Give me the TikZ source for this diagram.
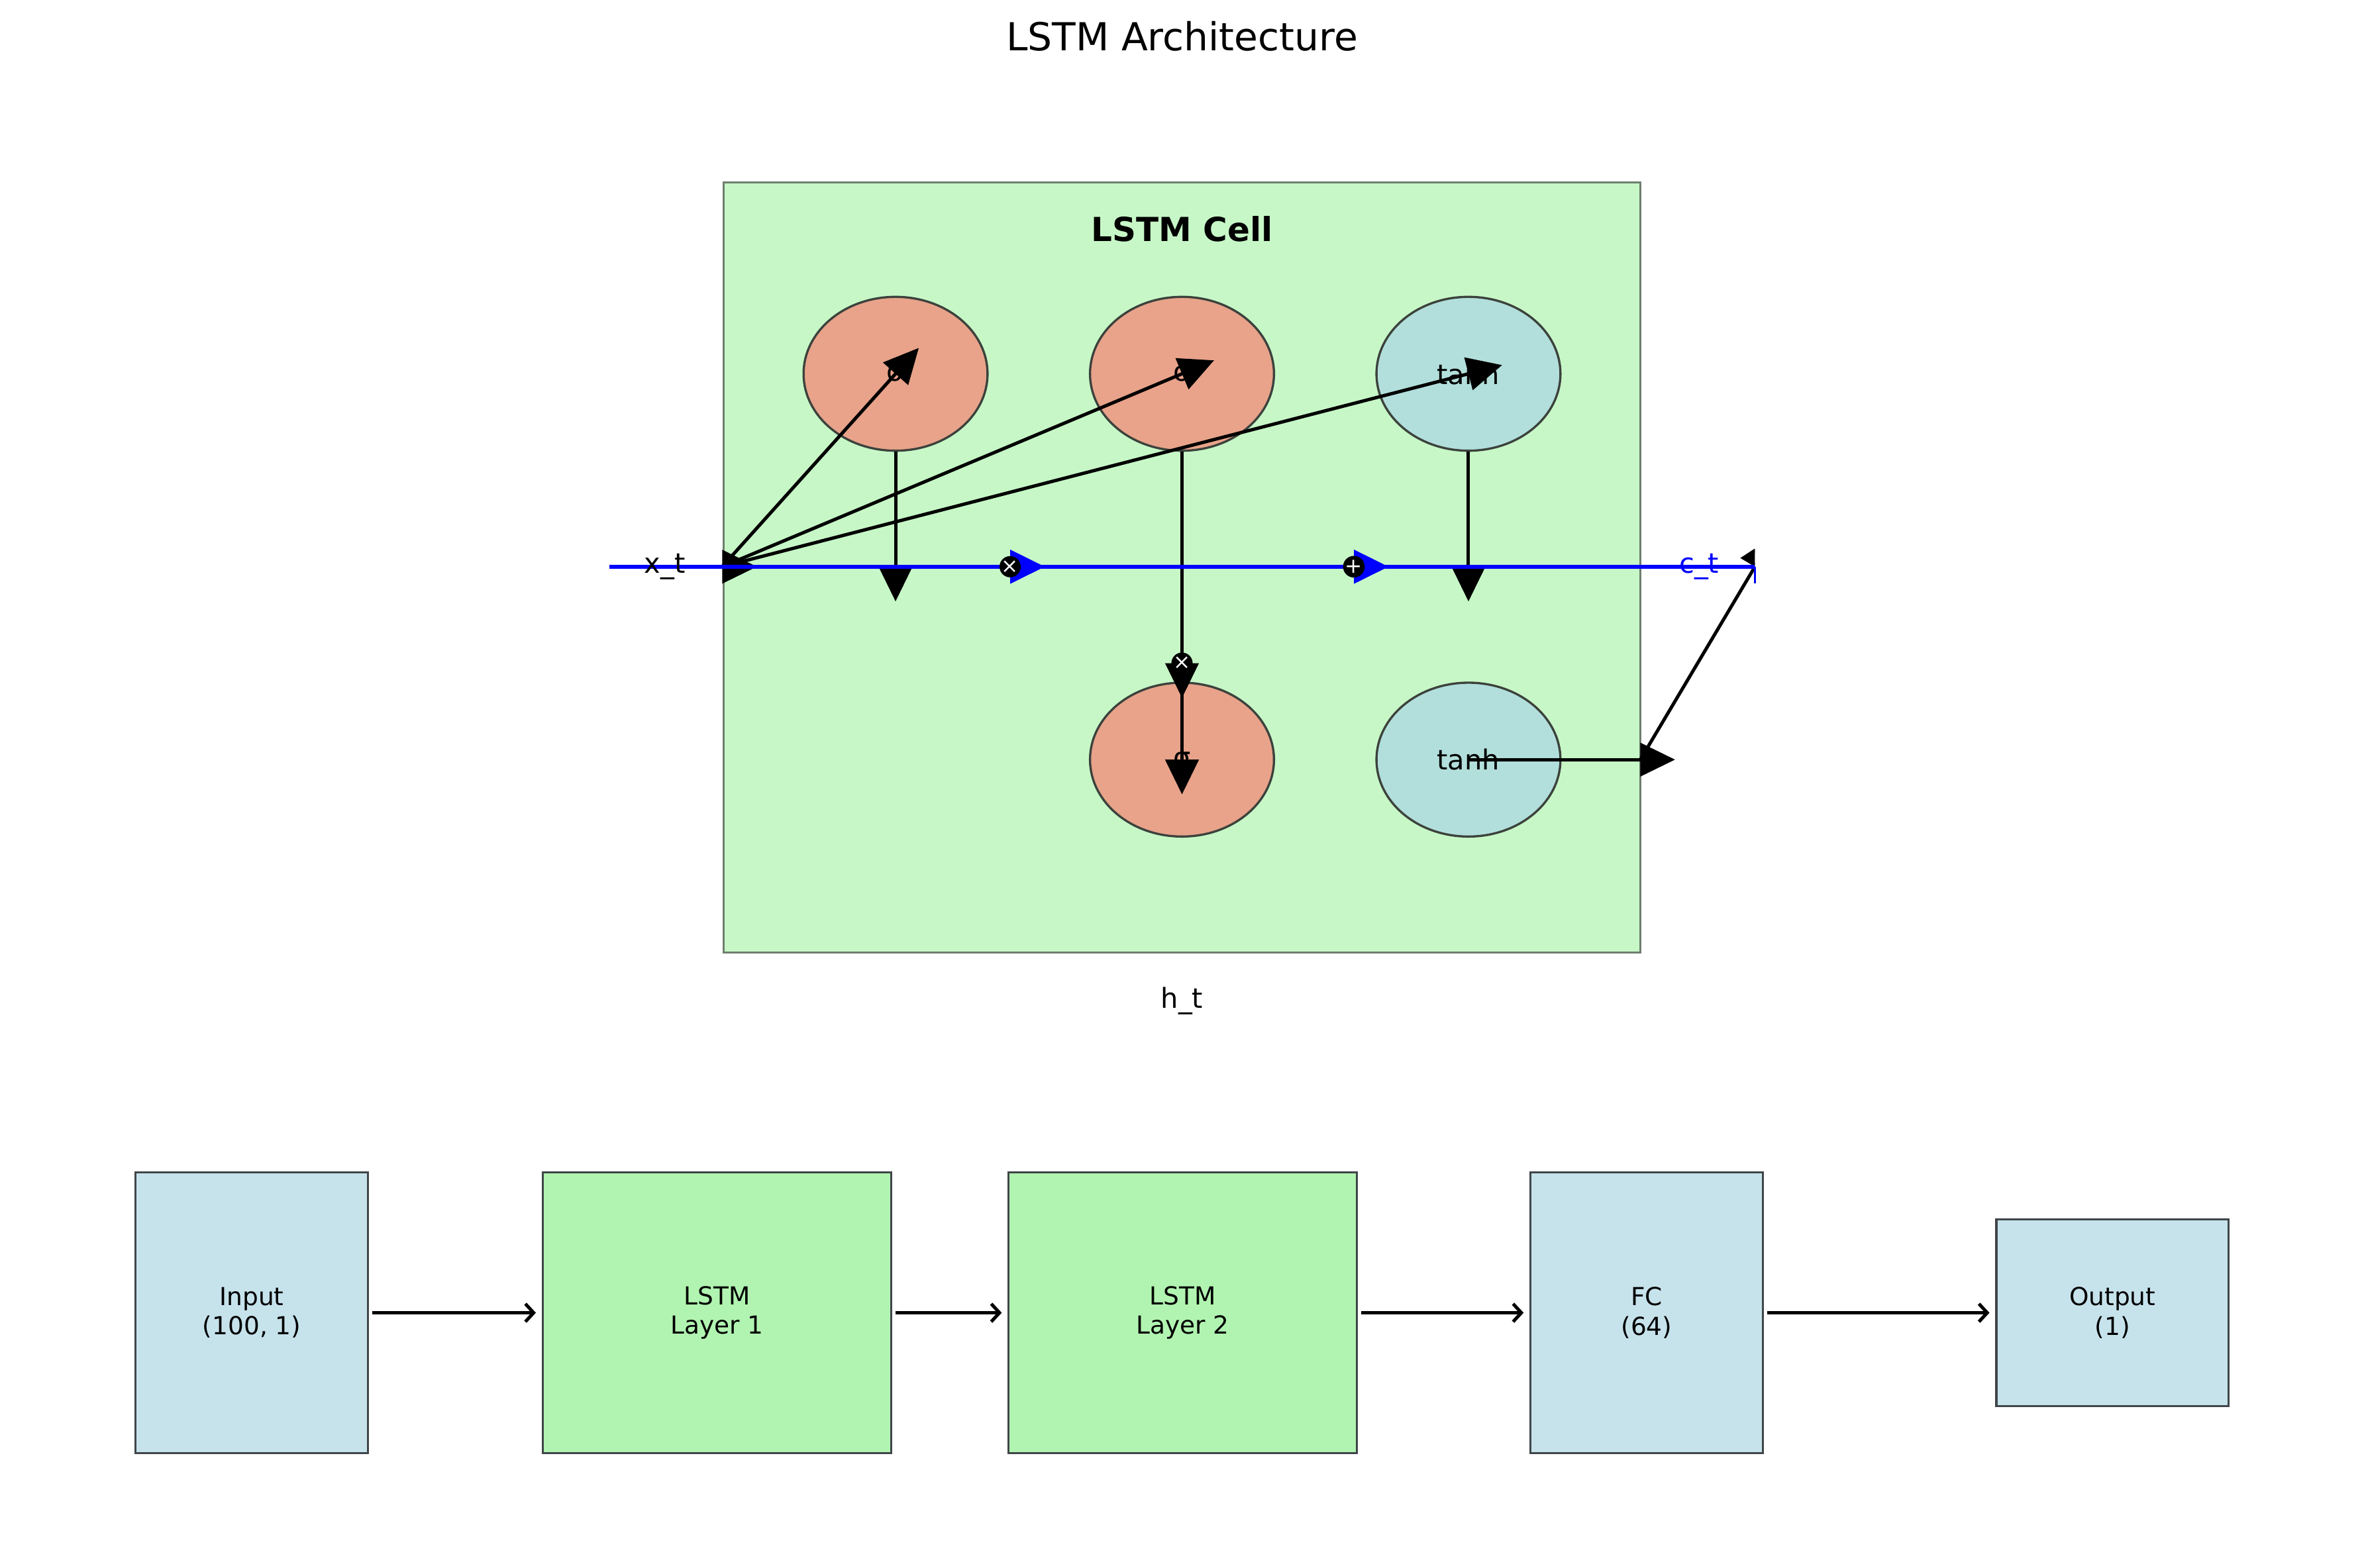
\documentclass[tikz,border=0pt]{standalone}
\usepackage{fontspec}
\setmainfont{DejaVu Sans}
\usetikzlibrary{arrows.meta,positioning,shapes.geometric}
\pgfdeclarelayer{front}
\pgfsetlayers{main,front}

\definecolor{cellgreen}{HTML}{C7F7C7}
\definecolor{cellline}{HTML}{6F7F6F}
\definecolor{sigred}{HTML}{E8A38A}
\definecolor{tanhblue}{HTML}{B2DFDB}
\definecolor{gateline}{HTML}{3C423C}
\definecolor{inblue}{HTML}{C6E3EC}
\definecolor{lstmgreen}{HTML}{B1F4B1}
\definecolor{boxline}{HTML}{404649}

\begin{document}
\begin{tikzpicture}[%
    x=0.5466pt, y=-0.5466pt,
    head/.style={-{Triangle[length=12.6pt,width=12pt]}, shorten >=-12.6pt, line width=1.2pt},
    cstate/.style={draw=blue, line width=1.6pt},
    gate/.style={ellipse, draw=gateline, line width=0.8pt, minimum width=66.7pt,
      minimum height=55.8pt, inner sep=0pt, font=\fontsize{10}{12}\selectfont},
    sig/.style={gate, fill=sigred},
    tnh/.style={gate, fill=tanhblue},
    op/.style={circle, fill=black, text=white, minimum size=7pt, inner sep=0pt,
      font=\fontsize{7.5}{7.5}\selectfont},
    lbl/.style={font=\fontsize{10}{12}\selectfont},
    layer/.style={rectangle, draw=boxline, line width=0.8pt, outer sep=0pt,
      minimum width=84.2pt, minimum height=101.7pt, align=center,
      font=\fontsize{9}{10.6}\selectfont},
    flow/.style={-{Straight Barb[length=3pt,width=6.5pt]}, line width=1.2pt,
      shorten <=1.6pt, shorten >=2.5pt},
  ]
    \useasboundingbox (0,0) rectangle (1568,1040);

    \node[font=\fontsize{14}{17}\selectfont] (title) at (784,24) {LSTM Architecture};

    \path[draw=cellline, fill=cellgreen, line width=0.7pt] (480,121) rectangle (1088,632);
    \node[font=\bfseries\fontsize{12}{14}\selectfont] (celltitle) at (784,152) {LSTM Cell};

    \node[sig] (fgate) at (594,248) {σ};
    \node[sig] (igate) at (784,248) {σ};
    \node[tnh] (cgate) at (974,248) {tanh};
    \node[sig] (ogate) at (784,504) {σ};
    \node[tnh] (hgate) at (974,504) {tanh};

    \coordinate (xin)   at (404,376);
    \coordinate (xjoin) at (479,376);
    \coordinate (fjoin) at (594,376);
    \coordinate (cjoin) at (974,376);
    \coordinate (hjoin) at (1088,504);
    \coordinate (cend)  at (1164,376);
    \coordinate (ctick) at (1164,387);

    \begin{pgfonlayer}{front}
    \node[op] (mulf) at (670,376) {×};
    \node[op] (addc) at (898,376) {+};
    \node[op] (mulo) at (784,440) {×};
    \node[lbl] (xlabel) at (441,376) {x\_t};
    \node[lbl, text=blue] (clabel) at (1127,376) {c\_t};
    \end{pgfonlayer}
    \node[lbl] (hlabel) at (784,664) {h\_t};

    \draw[head] (xin) -- (xjoin);
    \draw[head] (xjoin) -- (fgate.center);
    \draw[head] (xjoin) -- (igate.center);
    \draw[head] (xjoin) -- (cgate.center);
    \draw[head] (fgate.south) -- (fjoin);
    \draw[head] (igate.south) -- (mulo.center);
    \draw[head] (mulo.center) -- (ogate.center);
    \draw[head] (cgate.south) -- (cjoin);
    \draw[head] (hgate.center) -- (hjoin);
    \begin{scope}
      \clip (0,0) rectangle (1164,1040);
      \draw[head] (hjoin) -- (cend);
    \end{scope}

    \draw[cstate, head, line width=1.6pt, blue] (xin) -- (mulf.center);
    \draw[cstate, head, line width=1.6pt, blue] (mulf.center) -- (addc.center);
    \draw[cstate] (addc.center) -- (cend);
    \draw[blue, line width=0.6pt] (cend) -- (ctick);

    \node[layer, fill=inblue] (input) at (167,871) {Input\\(100, 1)};
    \node[layer, fill=lstmgreen, minimum width=126.3pt, right=63.4pt of input] (lstm1) {LSTM\\Layer 1};
    \node[layer, fill=lstmgreen, minimum width=126.3pt, right=42.6pt of lstm1] (lstm2) {LSTM\\Layer 2};
    \node[layer, fill=inblue, right=62.9pt of lstm2] (fc) {FC\\(64)};
    \node[layer, fill=inblue, minimum height=67.8pt, right=84.7pt of fc] (output) {Output\\(1)};

    \draw[flow] (input) -- (lstm1);
    \draw[flow] (lstm1) -- (lstm2);
    \draw[flow] (lstm2) -- (fc);
    \draw[flow] (fc) -- (output);
  \end{tikzpicture}
\end{document}
